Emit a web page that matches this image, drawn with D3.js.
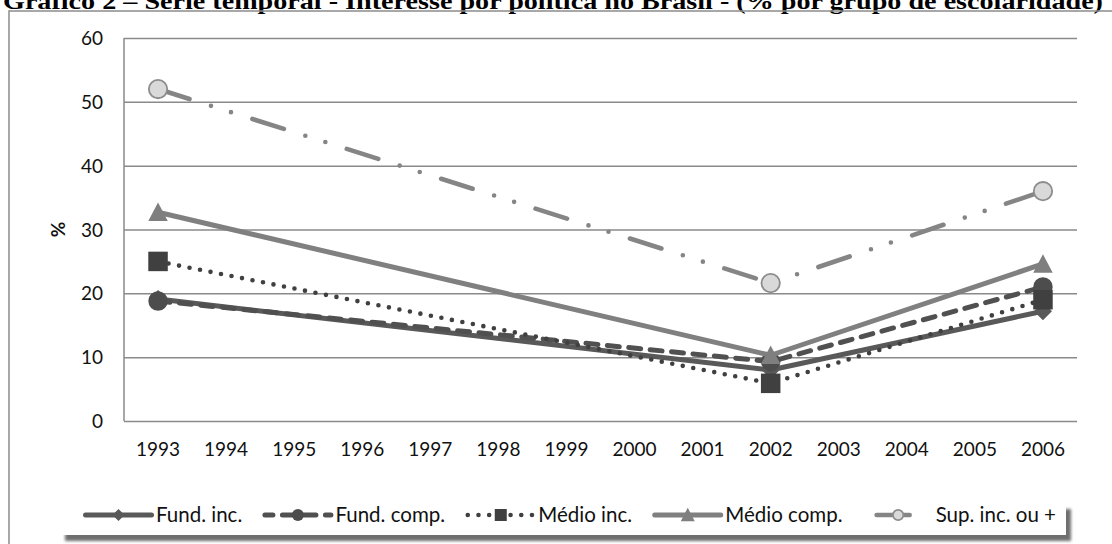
<!DOCTYPE html>
<html><head><meta charset="utf-8">
<script src="https://cdn.jsdelivr.net/npm/d3@7/dist/d3.min.js"></script>
<style>html,body{margin:0;padding:0;background:#fff;overflow:hidden}</style>
</head><body>
<svg id="c" width="1112" height="544"></svg>
<script>
const titleText = "Gráfico 2 – Série temporal - Interesse por política no Brasil - (% por grupo de escolaridade)";
const years = ["1993","1994","1995","1996","1997","1998","1999","2000","2001","2002","2003","2004","2005","2006"];
const pointYears = ["1993","2002","2006"];
const fundInc   = [19.1, 8.0, 17.2];
const fundComp  = [18.8, 9.3, 21.0];
const medioInc  = [25.0, 5.9, 19.0];
const medioComp = [32.7, 10.3, 24.6];
const supInc    = [52.0, 21.6, 36.0];
const seriesNames = ["Fund. inc.", "Fund. comp.", "Médio inc.", "Médio comp.", "Sup. inc. ou +"];
const yTicks = [0, 10, 20, 30, 40, 50, 60];
const yLabel = "%";

const series = [
  {name: seriesNames[0], values: fundInc,   color: "#595959", dash: null,                 width: 5,   marker: "diamond", mcolor: "#595959"},
  {name: seriesNames[1], values: fundComp,  color: "#505050", dash: "12 9.5",             width: 5,   marker: "circle",  mcolor: "#4d4d4d"},
  {name: seriesNames[2], values: medioInc,  color: "#404040", dash: "0 10.7",             width: 4.6, marker: "square",  mcolor: "#404040"},
  {name: seriesNames[3], values: medioComp, color: "#808080", dash: null,                 width: 5,   marker: "triangle",mcolor: "#7f7f7f"},
  {name: seriesNames[4], values: supInc,    color: "#858585", dash: "33 22.5 0 21 0 22.5", width: 4.6, marker: "ocircle", mcolor: "#d9d9d9"}
];

const svg = d3.select("#c");
const font = "Lato, 'Open Sans', sans-serif";
const M = {left: 124, right: 1077, top: 38, bottom: 421};

const x = d3.scaleBand().domain(years).range([M.left, M.right]).padding(0);
const y = d3.scaleLinear().domain([0, 60]).range([M.bottom, M.top]);
const cx = d => x(d) + x.bandwidth() / 2;

const defs = svg.append("defs");
const f = defs.append("filter").attr("id", "blur").attr("x", "-5%").attr("y", "-50%").attr("width", "110%").attr("height", "200%");
f.append("feGaussianBlur").attr("stdDeviation", 1.6);

// Title (cut at top edge, as in the reference)
svg.append("text").attr("x", 3).attr("y", 9)
  .attr("font-family", "'Liberation Serif', 'Times New Roman', serif")
  .attr("font-weight", "bold").attr("font-size", 24)
  .attr("textLength", 1100).attr("lengthAdjust", "spacingAndGlyphs")
  .attr("fill", "#000").text(titleText);

svg.append("path").attr("d", "M9,544V11H1112").attr("fill", "none").attr("stroke", "#8c8c8c").attr("stroke-width", 1.5);

const gy = svg.append("g").attr("transform", `translate(${M.left},0)`)
  .call(d3.axisRight(y).tickValues(yTicks).tickSize(M.right - M.left).tickFormat(""));
gy.select(".domain").remove();
gy.selectAll(".tick line").attr("stroke", "#8a8a8a").attr("stroke-width", 1.5);

svg.append("line").attr("x1", M.left).attr("x2", M.left).attr("y1", M.top).attr("y2", M.bottom)
  .attr("stroke", "#8a8a8a").attr("stroke-width", 1.5);

const yl = svg.append("g").attr("transform", `translate(${M.left - 21},0)`)
  .call(d3.axisLeft(y).tickValues(yTicks).tickSize(0).tickPadding(0).tickFormat(d3.format("d")));
yl.select(".domain").remove();
yl.selectAll("text").attr("font-family", font).attr("font-size", 19).attr("fill", "#111").attr("dy", "0.35em");

const xl = svg.append("g").attr("transform", `translate(0,${M.bottom})`)
  .call(d3.axisBottom(x).tickSize(0).tickPadding(22));
xl.select(".domain").remove();
xl.selectAll("text").attr("font-family", font).attr("font-size", 19).attr("fill", "#111");

svg.append("text").attr("transform", `translate(65,${y(30)}) rotate(-90)`)
  .attr("text-anchor", "middle").attr("font-family", font).attr("font-weight", "bold")
  .attr("font-size", 19).attr("fill", "#111").text(yLabel);

function drawMarker(g, type, px, py, s, fill) {
  const h = s / 2;
  if (type === "diamond") {
    g.append("path").attr("d", `M${px},${py-h}L${px+h},${py}L${px},${py+h}L${px-h},${py}Z`).attr("fill", fill);
  } else if (type === "circle") {
    g.append("circle").attr("cx", px).attr("cy", py).attr("r", h).attr("fill", fill);
  } else if (type === "square") {
    g.append("rect").attr("x", px-h).attr("y", py-h).attr("width", s).attr("height", s).attr("fill", fill);
  } else if (type === "triangle") {
    const th = s * 0.9;
    g.append("path").attr("d", `M${px},${py-th/2-1}L${px+h},${py+th/2}L${px-h},${py+th/2}Z`).attr("fill", fill);
  } else if (type === "ocircle") {
    g.append("circle").attr("cx", px).attr("cy", py).attr("r", h - 0.8).attr("fill", fill)
      .attr("stroke", "#8c8c8c").attr("stroke-width", 1.8);
  }
}

const line = d3.line().x(d => cx(d.year)).y(d => y(d.v));

series.forEach(s => {
  const pts = pointYears.map((yr, i) => ({year: yr, v: s.values[i]}));
  const g = svg.append("g");
  g.append("path").datum(pts).attr("d", line).attr("fill", "none")
    .attr("stroke", s.color).attr("stroke-width", s.width)
    .attr("stroke-linecap", "round").attr("stroke-linejoin", "round")
    .attr("stroke-dasharray", s.dash);
  pts.forEach(p => drawMarker(g, s.marker, cx(p.year), y(p.v), s.marker === "ocircle" ? 20 : (s.marker === "diamond" ? 18 : 19.5), s.mcolor));
});

// legend
const LG = {x: 60, y: 497, w: 1006, h: 38, cy: 515};
svg.append("rect").attr("x", LG.x + 5).attr("y", LG.y + 12).attr("width", LG.w).attr("height", LG.h - 6)
  .attr("fill", "#6e6e6e").attr("filter", "url(#blur)");
svg.append("rect").attr("x", LG.x).attr("y", LG.y).attr("width", LG.w).attr("height", LG.h).attr("fill", "#fff");

const leg = svg.append("g");
const legFont = 20.5;
const symW = 71, gapT = 2, legStart = 83, legEnd = 1056;
const widths = series.map(s => {
  const t = leg.append("text").attr("font-family", font).attr("font-size", legFont).text(s.name);
  const w = t.node().getComputedTextLength(); t.remove(); return w;
});
const total = series.length * (symW + gapT) + d3.sum(widths);
const spacing = (legEnd - legStart - total) / (series.length - 1);
let lx = legStart;
series.forEach((s, i) => {
  const g = leg.append("g");
  const l = g.append("line").attr("x1", lx + 2.5).attr("x2", lx + symW - 2.5).attr("y1", LG.cy).attr("y2", LG.cy)
    .attr("stroke", s.color).attr("stroke-width", s.width).attr("stroke-linecap", "round")
    .attr("stroke-dasharray", s.dash);
  if (s.marker === "ocircle") l.attr("stroke-dashoffset", 87.5);
  if (s.marker === "circle") l.attr("stroke-dashoffset", 4);
  drawMarker(g, s.marker, lx + symW / 2, LG.cy, s.marker === "triangle" ? 14 : 12, s.mcolor);
  g.append("text").attr("x", lx + symW + gapT).attr("y", LG.cy).attr("dy", "0.35em")
    .attr("font-family", font).attr("font-size", legFont).attr("fill", "#111").text(s.name);
  lx += symW + gapT + widths[i] + spacing;
});
</script>
</body></html>
